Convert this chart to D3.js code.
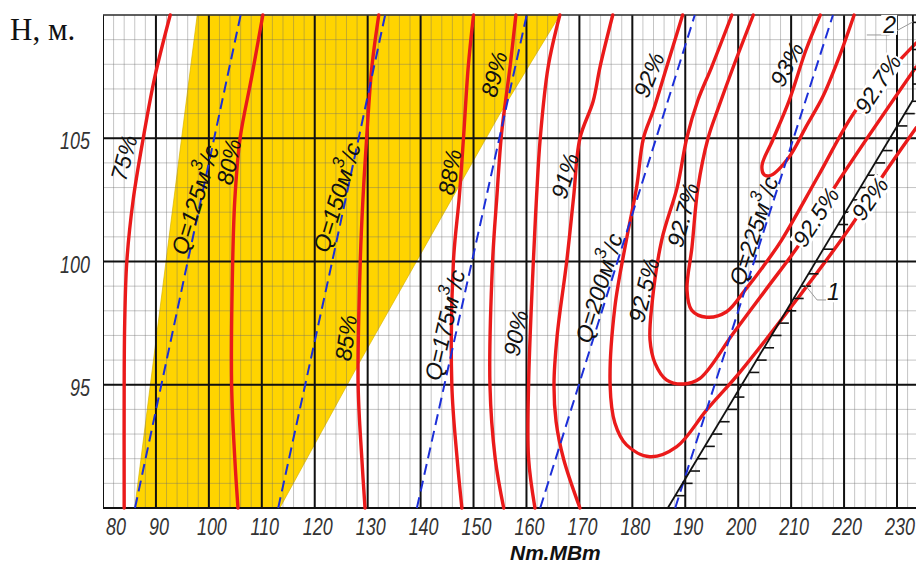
<!DOCTYPE html>
<html><head><meta charset="utf-8">
<script src="https://cdn.jsdelivr.net/npm/d3@7/dist/d3.min.js"></script>
<style>
body{margin:0;background:#fff;}
svg{display:block;}
.lbl{font-family:"Liberation Sans",Arimo,"DejaVu Sans",sans-serif;font-style:italic;fill:#111;}
</style></head><body>
<svg id="c" width="916" height="563"></svg>
<script>
// ---------- data ----------
const xTickValues=[80,90,100,110,120,130,140,150,160,170,180,190,200,210,220,230];
const yTickValues=[95,100,105];

// efficiency contours  [N (MW), H (m)]
const eta75=[[92.7,110],[89.8,107.5],[87.6,105],[85.7,102.5],[84.5,100],[84.1,97.5],[84.0,95],[84.0,90]];
const eta80=[[110.2,110],[108.1,107.5],[105.9,105],[104.9,102.5],[104.5,100],[104.3,95],[104.9,92],[105.5,90]];
const eta85=[[132.1,110],[130.8,107.9],[129.8,105],[129.1,102.5],[128.6,100],[128.2,95],[128.9,92],[129.5,90]];
const eta88=[[150.0,110],[149.0,107.9],[148.1,105],[147.3,102.6],[146.2,100],[145.9,95],[146.9,92],[147.8,90]];
const eta89=[[158.0,110],[156.9,107.9],[155.3,105.2],[154.4,102.6],[153.6,100],[153.1,95],[154.1,92],[155.7,90]];
const eta90=[[166.3,110],[164.1,107.9],[162.6,105],[161.9,102.6],[161.3,100],[160.4,95],[160.4,92],[161.6,90]];
const eta91=[[176.3,110],[173.9,107.9],[172.6,106.5],[170.1,105],[168.9,102.6],[167.6,100],[165.8,97],[165.2,95],[165.6,93.5],[167.0,92],[170.1,90]];
const eta92=[[189.5,110],[186.5,107.9],[184.0,106.15],[182.1,105],[180.8,103],[178.9,100.9],[176.7,98.15],[175.8,95],[176.7,93.45],[178.9,92.56],[183.3,92.08],[188.4,92.49],[194.05,93.98],[200.3,95.5],[209.8,98.1],[219.2,100.8],[222.45,101.8],[227.55,103.55],[233.6,105.42]];
const eta925=[[198.8,110],[195.0,107.9],[192.4,106.55],[190.3,105.02],[188.5,103.03],[185.55,100.87],[183.66,98.17],[183.34,96.82],[184.28,95.88],[186.5,95.19],[189.63,95.03],[192.78,95.26],[199.08,97.09],[205.4,98.91],[211.7,100.74],[218.86,103.23],[233.6,107.89]];
const eta927=[[202.86,110],[199.08,107.9],[196.2,106.2],[194.3,105.0],[192.4,103.0],[191.27,100.59],[190.33,98.84],[191.2,98.03],[194.05,97.74],[197.8,97.96],[201.3,98.84],[204.7,99.79],[208.2,100.87],[215.2,103.5],[222.26,106.15],[231.1,108.3],[233.6,108.86]];
const eta93=[[215.5,110],[212.8,108.58],[209.66,106.55],[206.53,104.93],[204.5,103.9],[204.9,103.52],[206.2,103.5],[209.66,104.25],[212.8,105.46],[216.0,106.69],[219.1,108.31],[221.9,110]];
const etaSeries=[eta75,eta80,eta85,eta88,eta89,eta90,eta91,eta92,eta925,eta927,eta93];

// discharge lines Q, m3/s
const q125=[[86.05,90],[96.0,100],[106.0,110]];
const q150=[[113.1,90],[123.3,100],[133.3,110]];
const q175=[[139.3,90],[149.7,100],[160.05,110]];
const q200=[[162.6,90],[177.2,100],[191.8,110]];
const q225=[[188.1,90],[203.0,100],[217.9,110]];
const qSeries=[q125,q150,q175,q200,q225];

// operating zone (yellow)
const yellowZone=[[86.0,90],[97.8,110],[166.3,110],[155.0,106.0],[128.7,96.0],[113.4,90]];

// limit lines 1 and 2
const limitLine1=[[186.7,90],[233.0,106.55]];
const limitLine2=[[233.0,106.55],[233.0,110]];
const line2Hatch=[109.7,108.6,107.8,107.2];

// labels: text, anchor [N,H], angle
const labelTexts=["75%","80%","Q=125м³/с","Q=150м³/с","85%","88%","89%","Q=175м³/с","90%","91%","Q=200м³/с","92%","92.5%","92.7%","Q=225м³/с","93%","92.7%","92.5%","92%"];
const labelAnchors=[[83.97,104.2],[103.8,104.04],[97.4,102.5],[124.2,102.6],[125.9,96.9],[145.55,103.63],[153.9,107.6],[144.6,97.42],[158.0,97.1],[167.3,103.47],[173.7,98.92],[183.15,107.57],[182.2,98.84],[189.57,101.89],[202.96,101.24],[209.2,108.0],[226.4,107.2],[214.7,101.8],[224.9,102.54]];
const labelAngles=[-75,-78,-73,-73,-82,-80,-75,-77,-78,-73,-73,-68,-76,-75,-72,-62,-57,-57,-55];
const boxedLabelIdx=[16,17,18];

const calloutTexts=["1","2"];
const calloutAnchors=[[218.0,98.75],[228.6,109.6]];
const leader1=[[212.6,99.05],[214.9,98.44],[218.6,98.44]];
const leader2=[[224.3,109.19],[228.5,109.19],[233.0,109.72]];

// ---------- drawing ----------
const svg=d3.select('#c');
const x=d3.scaleLinear().domain([80,230]).range([103,897]);
const y=d3.scaleLinear().domain([90,110]).range([508,15]);
const X0=x(80),X1=916,Y0=y(110),Y1=y(90);

svg.append('rect').attr('width',916).attr('height',563).attr('fill','#fff');
svg.append('defs').append('clipPath').attr('id','plot').append('rect')
  .attr('x',X0).attr('y',Y0-2).attr('width',X1-X0+4).attr('height',Y1-Y0+4);
const g=svg.append('g').attr('clip-path','url(#plot)');

const straight=d3.line().x(d=>x(d[0])).y(d=>y(d[1]));
const smooth=d3.line().x(d=>x(d[0])).y(d=>y(d[1])).curve(d3.curveCatmullRom.alpha(0.5));

g.append('path').attr('d',straight(yellowZone)+'Z').attr('fill','#ffd400').attr('stroke','#d8b400').attr('stroke-width',0.7);

// minor grid
const minorX=d3.range(80,236,2), minorY=d3.range(90,111,1);
g.selectAll('.mx').data(minorX).enter().append('line')
  .attr('x1',d=>x(d)).attr('x2',d=>x(d)).attr('y1',Y0).attr('y2',Y1)
  .attr('stroke','#6f6f6f').attr('stroke-opacity',0.4).attr('stroke-width',1);
g.selectAll('.my').data(minorY).enter().append('line')
  .attr('x1',X0).attr('x2',X1).attr('y1',d=>y(d)).attr('y2',d=>y(d))
  .attr('stroke','#6f6f6f').attr('stroke-opacity',0.4).attr('stroke-width',1);
// major grid
g.selectAll('.Mx').data(d3.range(80,231,10)).enter().append('line')
  .attr('x1',d=>x(d)).attr('x2',d=>x(d)).attr('y1',Y0).attr('y2',Y1)
  .attr('stroke','#111').attr('stroke-width',2);
g.selectAll('.My').data([90,95,100,105]).enter().append('line')
  .attr('x1',X0).attr('x2',X1).attr('y1',d=>y(d)).attr('y2',d=>y(d))
  .attr('stroke','#111').attr('stroke-width',2);
g.append('line').attr('x1',X0).attr('x2',X1).attr('y1',Y0).attr('y2',Y0).attr('stroke','#333').attr('stroke-width',1.5);

// efficiency curves
g.selectAll('.eta').data(etaSeries).enter().append('path')
  .attr('d',d=>smooth(d)).attr('fill','none').attr('stroke','#ea1a1a').attr('stroke-width',3.4).attr('stroke-linecap','round');

// discharge lines
g.selectAll('.q').data(qSeries).enter().append('path')
  .attr('d',d=>straight(d)).attr('fill','none').attr('stroke','#1c2fd8').attr('stroke-width',2)
  .attr('stroke-dasharray','11,6');

// limit lines
g.append('path').attr('d',straight(limitLine1)).attr('stroke','#111').attr('stroke-width',1.8).attr('fill','none');
g.append('path').attr('d',straight(limitLine2)).attr('stroke','#111').attr('stroke-width',1.8).attr('fill','none');
const l1=limitLine1, slope=(l1[1][0]-l1[0][0])/(l1[1][1]-l1[0][1]);
const hatch1=d3.range(90.5,106.6,0.5);
g.selectAll('.h1').data(hatch1).enter().append('line')
  .attr('x1',d=>x(l1[0][0]+(d-l1[0][1])*slope)).attr('x2',d=>x(l1[0][0]+(d-l1[0][1])*slope)+10)
  .attr('y1',d=>y(d)).attr('y2',d=>y(d)).attr('stroke','#111').attr('stroke-width',1.6);
g.selectAll('.h2').data(line2Hatch).enter().append('line')
  .attr('x1',x(limitLine2[0][0])).attr('x2',x(limitLine2[0][0])+10)
  .attr('y1',d=>y(d)).attr('y2',d=>y(d)).attr('stroke','#111').attr('stroke-width',1.6);

// leaders
[leader1,leader2].forEach(l=>g.append('path').attr('d',straight(l)).attr('fill','none').attr('stroke','#999').attr('stroke-width',1));

// labels
function addLabel(parent,txt,cx,cy,ang,boxed){
  const lg=parent.append('g').attr('transform',`translate(${cx},${cy}) rotate(${ang})`);
  const rect=boxed?lg.append('rect').attr('fill','#fff'):null;
  const t=lg.append('text').attr('class','lbl').attr('text-anchor','middle').attr('dominant-baseline','central').attr('font-size',23);
  if(txt.includes('³')){
    const p=txt.split('³');
    t.append('tspan').text(p[0]);
    t.append('tspan').attr('dy',-9).attr('font-size',17).text('3');
    t.append('tspan').attr('dy',9).text(p[1]);
  } else t.text(txt);
  if(boxed){const b=t.node().getBBox();rect.attr('x',b.x-1).attr('y',b.y+3).attr('width',b.width+2).attr('height',b.height-6);}
}
labelTexts.forEach((txt,i)=>addLabel(g,txt,x(labelAnchors[i][0]),y(labelAnchors[i][1]),labelAngles[i],boxedLabelIdx.includes(i)));
calloutTexts.forEach((txt,i)=>addLabel(g,txt,x(calloutAnchors[i][0]),y(calloutAnchors[i][1]),0,true));

// axis tick labels
svg.selectAll('.xt').data(xTickValues).enter().append('text').attr('class','lbl')
  .attr('text-anchor','middle').attr('font-size',23).style('fill','#333')
  .attr('transform',d=>`translate(${x(d)+(d===80?13:3)},535) scale(0.78,1)`).text(d=>d);
svg.selectAll('.yt').data(yTickValues).enter().append('text').attr('class','lbl')
  .attr('text-anchor','end').attr('font-size',23).style('fill','#333')
  .attr('transform',d=>`translate(90,${y(d)+11}) scale(0.78,1)`).text(d=>d);

svg.append('text').attr('class','lbl').attr('x',510).attr('y',560).attr('font-size',21).attr('font-weight','bold').text('Nт.МВт');
svg.append('text').attr('x',10).attr('y',40).attr('font-family','"Liberation Serif","Times New Roman",serif').attr('font-size',31).attr('fill','#111').text('Н, м.');
</script>
</body></html>
